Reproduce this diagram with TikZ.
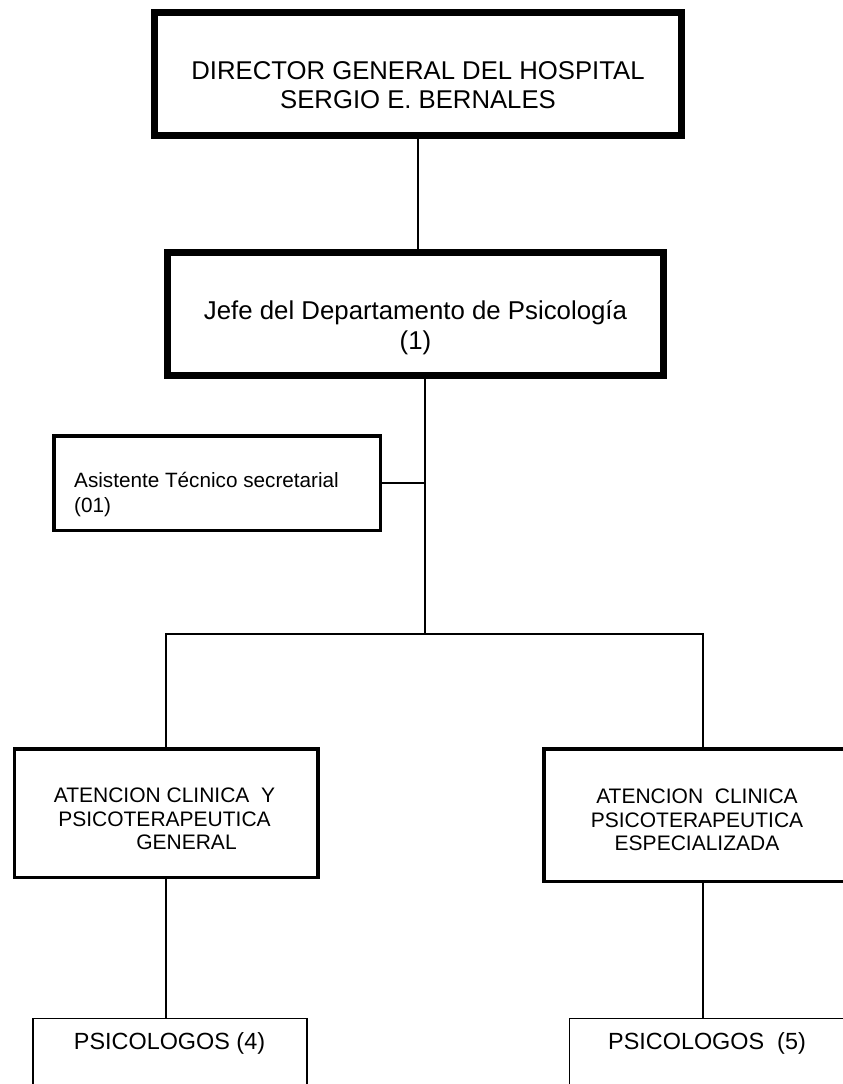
\documentclass[tikz,border=0pt]{standalone}
\usepackage{fontspec}
\setmainfont{Liberation Sans}
\begin{document}
\begin{tikzpicture}[x=1pt,y=-1pt,
  thickbox/.style={draw,line width=7pt,inner sep=0pt},
  midbox/.style={draw,line width=3.5pt,inner sep=0pt},
  thinbox/.style={draw,line width=1.2pt,inner sep=0pt},
  conn/.style={line width=1.2pt}]
\useasboundingbox (0,0) rectangle (843,1084);
\clip (0,0) rectangle (843,1084);
\node[thickbox,minimum width=527,minimum height=123] (dir) at (418,74) {};
\node[align=center,font=\fontsize{25.7}{28.5}\selectfont] (dirtxt) at (418,85) {DIRECTOR GENERAL DEL HOSPITAL\\SERGIO E. BERNALES};
\node[thickbox,minimum width=496,minimum height=123] (jefe) at (415.5,314) {};
\node[align=center,font=\fontsize{25.8}{30}\selectfont] (jefetxt) at (415.5,328) {Jefe del Departamento de Psicología\\(1)};
\node[midbox,minimum width=326.5,minimum height=94.5] (asis) at (217,483) {};
\node[align=left,anchor=west,inner sep=0pt,font=\fontsize{20.7}{25}\selectfont] (asistxt) at (74,495) {Asistente Técnico secretarial\\(01)};
\node[midbox,minimum width=303.5,minimum height=128.5] (atg) at (166,813) {};
\node[align=center,font=\fontsize{21}{23.7}\selectfont] (atgtxt) at (164.5,819) {ATENCION CLINICA~~Y\\PSICOTERAPEUTICA\\\hspace*{44pt}GENERAL};
\node[midbox,minimum width=318.5,minimum height=132.5] (ate) at (703,815) {};
\node[align=center,font=\fontsize{21}{23.7}\selectfont] (atetxt) at (697,820) {ATENCION~~CLINICA\\PSICOTERAPEUTICA\\ESPECIALIZADA};
\node[thinbox,minimum width=274,minimum height=100] (psi4) at (170,1068.6) {};
\node[font=\fontsize{23.4}{28}\selectfont] (psi4txt) at (169.5,1043) {PSICOLOGOS (4)};
\node[thinbox,minimum width=281,minimum height=100] (psi5) at (710,1068.6) {};
\node[font=\fontsize{23.4}{28}\selectfont] (psi5txt) at (707,1043) {PSICOLOGOS~~(5)};
\coordinate (hub) at (425,634);
\draw[conn] (dir.south) -- (dir.south |- jefe.north);
\draw[conn] (hub |- jefe.south) -- (hub);
\draw[conn] (asis.east) -- (asis.east -| hub);
\draw[conn] (atg.north) -- (atg.north |- hub) -- (ate.north |- hub) -- (ate.north);
\draw[conn] (atg.south) -- (atg.south |- psi4.north);
\draw[conn] (ate.south) -- (ate.south |- psi5.north);
\end{tikzpicture}
\end{document}
